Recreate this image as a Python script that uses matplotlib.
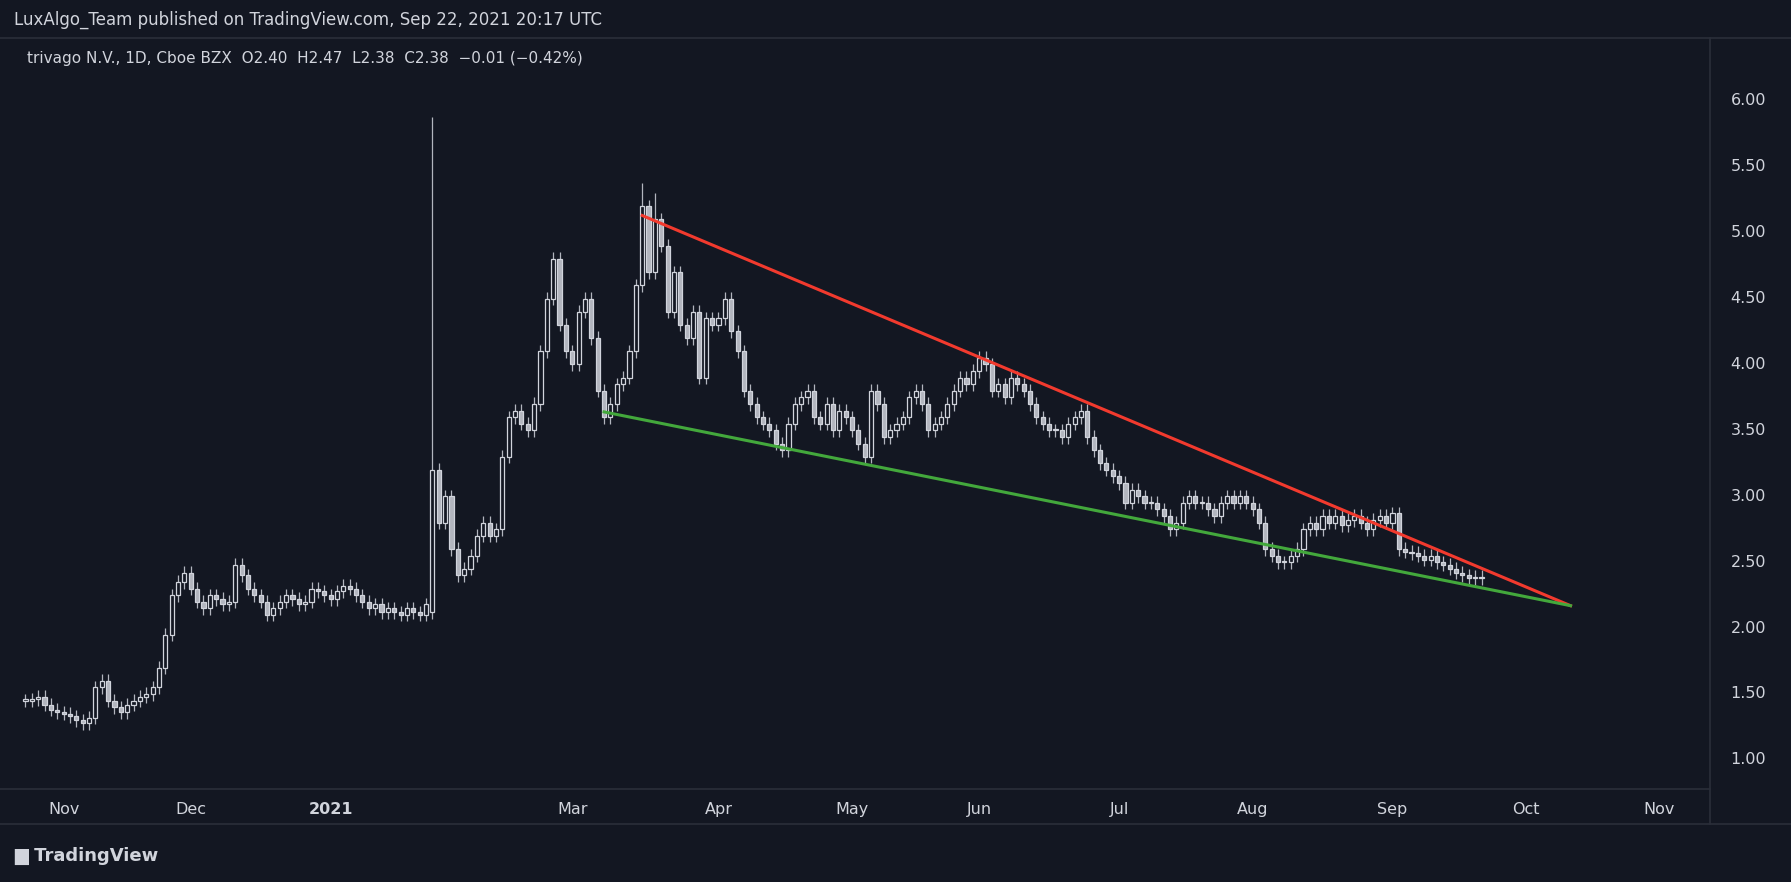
import matplotlib
matplotlib.use("Agg")
import matplotlib.pyplot as plt
import numpy as np

months = ["Oct", "Nov", "Dec", "2021", "Feb", "Mar", "Apr", "May", "Jun", "Jul", "Aug", "Sep"]
closes_by_month = [
    [1.45,1.46,1.48,1.42,1.38,1.36],
    [1.35,1.33,1.30,1.28,1.32,1.55,1.60,1.45,1.40,1.36,1.42,1.45,1.48,1.50,1.55,1.70,1.95,2.25,2.35,2.42],
    [2.30,2.20,2.15,2.25,2.22,2.18,2.20,2.48,2.40,2.30,2.25,2.20,2.10,2.15,2.20,2.25,2.22,2.18,2.20,2.30,2.28,2.25],
    [2.22,2.28,2.32,2.30,2.25,2.20,2.15,2.18,2.12,2.15,2.12,2.10,2.15,2.12,2.10,2.18,3.20,2.80,3.00],
    [2.60,2.40,2.45,2.55,2.70,2.80,2.70,2.75,3.30,3.60,3.65,3.55,3.50,3.70,4.10,4.50,4.80,4.30,4.10],
    [4.00,4.40,4.50,4.20,3.80,3.60,3.70,3.85,3.90,4.10,4.60,5.20,4.70,5.10,4.90,4.40,4.70,4.30,4.20,4.40,3.90,4.35,4.30],
    [4.35,4.50,4.25,4.10,3.80,3.70,3.60,3.55,3.50,3.40,3.35,3.55,3.70,3.75,3.80,3.60,3.55,3.70,3.50,3.65,3.60],
    [3.50,3.40,3.30,3.80,3.70,3.45,3.50,3.55,3.60,3.75,3.80,3.70,3.50,3.55,3.60,3.70,3.80,3.90,3.85,3.95],
    [4.05,4.00,3.80,3.85,3.75,3.90,3.85,3.80,3.70,3.60,3.55,3.50,3.50,3.45,3.55,3.60,3.65,3.45,3.35,3.25,3.20,3.15],
    [3.10,2.95,3.05,3.00,2.95,2.95,2.90,2.85,2.75,2.80,2.95,3.00,2.95,2.95,2.90,2.85,2.95,3.00,2.95,3.00,2.95],
    [2.90,2.80,2.60,2.55,2.50,2.50,2.55,2.60,2.75,2.80,2.75,2.85,2.80,2.85,2.78,2.82,2.85,2.80,2.75,2.82,2.85,2.80],
    [2.87,2.60,2.58,2.57,2.55,2.52,2.55,2.50,2.48,2.45,2.42,2.40,2.38,2.39,2.38],
]
closes = [c for m in closes_by_month for c in m]
n = len(closes)
opens = [closes[0]] + closes[:-1]
spike_idx = sum(len(m) for m in closes_by_month[:3]) + 16
opens[spike_idx] = 2.12
peak_idx = sum(len(m) for m in closes_by_month[:5]) + 11
highs = [max(o, c) + 0.05 for o, c in zip(opens, closes)]
lows = [min(o, c) - 0.05 for o, c in zip(opens, closes)]
highs[spike_idx] = 5.88
highs[peak_idx] = 5.38
highs[peak_idx + 2] = 5.3

tick_labels = ["Nov", "Dec", "2021", "Mar", "Apr", "May", "Jun", "Jul", "Aug", "Sep", "Oct", "Nov"]
starts = np.cumsum([0] + [len(m) for m in closes_by_month])
tick_pos = [starts[1], starts[2], starts[3], starts[5], starts[6], starts[7], starts[8], starts[9], starts[10], starts[11],
            starts[12] + 6, starts[12] + 27]

BG = "#131722"
FG = "#d1d4dc"
fig = plt.figure(figsize=(17.91, 8.82), dpi=100, facecolor=BG)
ax = fig.add_axes([0.0, 0.106, 0.955, 0.851], facecolor=BG)
for i in range(n):
    o, c, h, l = opens[i], closes[i], highs[i], lows[i]
    ax.vlines(i, l, h, color="#b2b5be", lw=0.9, zorder=2)
    up = c >= o
    ax.bar(i, max(abs(c - o), 0.01), bottom=min(o, c), width=0.65,
           facecolor=BG if up else "#b2b5be", edgecolor="#d1d4dc", lw=0.9, zorder=3)

end_idx = n + 13
green_start = starts[5] + 5
ax.plot([peak_idx, end_idx], [5.13, 2.17], color="#f23a2e", lw=2.2, zorder=4)
ax.plot([green_start, end_idx], [3.64, 2.17], color="#43a83c", lw=2.2, zorder=4)

ax.set_xlim(-4.0, 265)
ax.set_ylim(0.783, 6.477)
for s in ax.spines.values():
    s.set_visible(False)
ax.set_xticks([]); ax.set_yticks([])

yax = fig.add_axes([0.955, 0.106, 0.045, 0.851], facecolor=BG)
yax.set_ylim(0.783, 6.477); yax.set_xlim(0, 1)
yax.set_xticks([]); yax.set_yticks([])
for s in yax.spines.values():
    s.set_visible(False)
for v in np.arange(1.0, 6.01, 0.5):
    yax.text(0.25, v, f"{v:.2f}", color=FG, fontsize=11.5, va="center", ha="left")
fig.add_artist(plt.Line2D([0.955, 0.955], [0.066, 0.957], color="#2a2e39", lw=1.2))
fig.add_artist(plt.Line2D([0, 0.955], [0.106, 0.106], color="#2a2e39", lw=1.2))
fig.add_artist(plt.Line2D([0, 1], [0.957, 0.957], color="#2a2e39", lw=1.2))
fig.add_artist(plt.Line2D([0, 1], [0.066, 0.066], color="#2a2e39", lw=1.2))

for p, lab in zip(tick_pos, tick_labels):
    xf = 0.955 * (p + 4.0) / 269.0
    fig.text(xf, 0.082, lab, color=FG, fontsize=11.5, ha="center", va="center",
             fontweight="bold" if lab == "2021" else "normal")

fig.text(0.008, 0.978, "LuxAlgo_Team published on TradingView.com, Sep 22, 2021 20:17 UTC",
         color=FG, fontsize=12, va="center", ha="left")
fig.text(0.015, 0.934, "trivago N.V., 1D, Cboe BZX  O2.40  H2.47  L2.38  C2.38  \u22120.01 (\u22120.42%)",
         color=FG, fontsize=11, va="center", ha="left")
fig.text(0.008, 0.03, "\u2587 TradingView", color=FG, fontsize=13, fontweight="bold", va="center", ha="left")

fig.savefig("out.png", dpi=100, facecolor=BG)
